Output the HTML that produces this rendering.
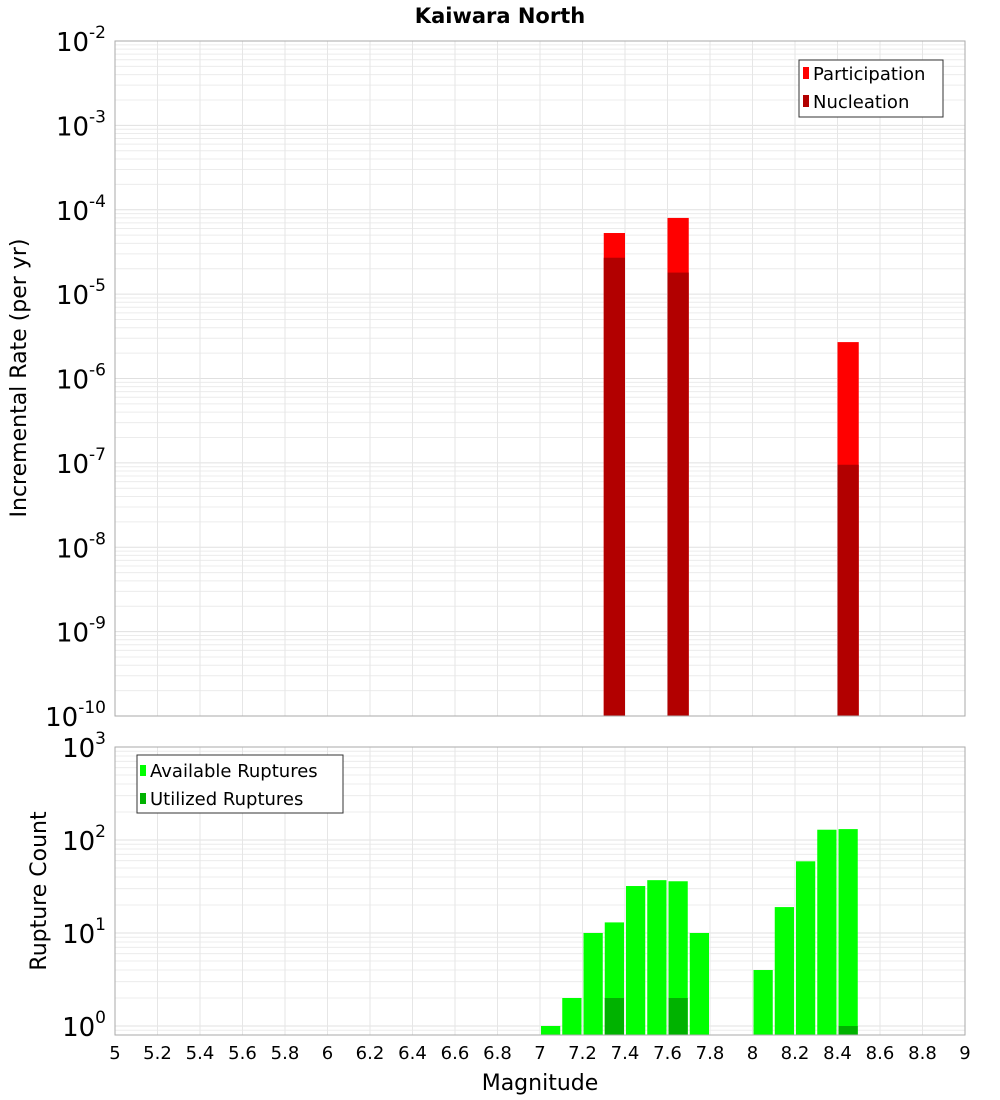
<!DOCTYPE html>
<html><head><meta charset="utf-8"><style>
body{margin:0;background:#fff;}
svg{display:block;font-family:"DejaVu Sans","Liberation Sans",sans-serif;}
</style></head><body>
<svg id="chart" width="1000" height="1100"></svg>
<script>
const magBins = [7.05,7.15,7.25,7.35,7.45,7.55,7.65,7.75,8.05,8.15,8.25,8.35,8.45];
const availableCounts = [1,2,10,13,32,37,36,10,4,19,59,129,131];
const utilizedMags = [7.35,7.65,8.45];
const utilizedCounts = [2,2,1];
const rateMags = [7.35,7.65,8.45];
const participationRates = [5.3e-5,8.0e-5,2.7e-6];
const nucleationRates = [2.7e-5,1.8e-5,9.5e-8];
const xTicks = [5,5.2,5.4,5.6,5.8,6,6.2,6.4,6.6,6.8,7,7.2,7.4,7.6,7.8,8,8.2,8.4,8.6,8.8,9];
const topExps = [-2,-3,-4,-5,-6,-7,-8,-9,-10];
const botExps = [3,2,1,0];

const NS="http://www.w3.org/2000/svg";
const svg=document.getElementById('chart');
function mk(tag,attrs,parent,text){const e=document.createElementNS(NS,tag);for(const k in attrs)e.setAttribute(k,attrs[k]);if(text!==undefined)e.textContent=text;(parent||svg).appendChild(e);return e;}
const L=115,R=965;
const xs=m=>L+(m-5)/4*(R-L);
const T1=41,B1=716;
const y1=v=>T1+(-2-Math.log10(v))*(B1-T1)/8;
const T2=747,B2=1035,DEC2=93;
const y2=v=>T2+(3-Math.log10(v))*DEC2;

function grid(top,bottom,yf,expLo,expHi){
  const g=mk('g',{});
  
  
  for(let e=expLo;e<=expHi;e++){for(let k=1;k<10;k++){const y=yf(k*Math.pow(10,e));if(y<top-0.5||y>bottom+0.5)continue;
    mk('line',{x1:L,x2:R,y1:y,y2:y,stroke:k===1?'#e0e0e0':'#ececec','stroke-width':1},g);}}
  xTicks.forEach(t=>{const x=xs(t);mk('line',{x1:x,x2:x,y1:top,y2:bottom,stroke:'#e6e6e6','stroke-width':1},g);});
}
grid(T1,B1,y1,-10,-3);
grid(T2,B2,y2,-1,2);

// top bars
rateMags.forEach((m,i)=>{
  const x=xs(m-0.05),w=xs(m+0.05)-x;
  const yp=y1(participationRates[i]);
  const r=mk('rect',{x:x,y:yp,width:w,height:B1-yp,fill:'#ff0000'});
  
  
  const yn=y1(nucleationRates[i]);
  const r2=mk('rect',{x:x,y:yn,width:w,height:B1-yn,fill:'#b20000'});
  
  
});
// bottom bars
magBins.forEach((m,i)=>{
  const x=xs(m-0.05)+1,w=xs(m+0.05)-xs(m-0.05)-2;
  const y=y2(availableCounts[i]);
  const r=mk('rect',{x:x,y:y,width:w,height:B2-y,fill:'#00ff00'});
  
  
});
utilizedMags.forEach((m,i)=>{
  const x=xs(m-0.05)+1,w=xs(m+0.05)-xs(m-0.05)-2;
  const y=y2(utilizedCounts[i]);
  const r=mk('rect',{x:x,y:y,width:w,height:B2-y,fill:'#00b200'});
  
  
});
// frames
mk('rect',{x:L,y:T1,width:R-L,height:B1-T1,fill:'none',stroke:'#aaaaaa','stroke-width':1});
mk('rect',{x:L,y:T2,width:R-L,height:B2-T2,fill:'none',stroke:'#aaaaaa','stroke-width':1});

// y tick labels
function ylab(y,e){
  const t=mk('text',{x:106,y:y+10,'font-size':26,'text-anchor':'end',fill:'#000'});
  
  
  mk('tspan',{},t,'10');
  mk('tspan',{dy:-13,'font-size':17},t,String(e));
}
topExps.forEach(e=>ylab(y1(Math.pow(10,e)),e));
botExps.forEach(e=>ylab(y2(Math.pow(10,e)),e));
// x tick labels
xTicks.forEach(t=>{
  const tx=mk('text',{x:xs(t),y:1059,'font-size':18,'text-anchor':'middle'},svg,String(Math.round(t*10)/10));
  
  
});
</script>
<svg width="1000" height="1100" style="position:absolute;left:0;top:0;font-family:'DejaVu Sans','Liberation Sans',sans-serif">
<text x="500" y="23" font-size="21" font-weight="bold" text-anchor="middle">Kaiwara North</text>
<text x="540" y="1090" font-size="22" text-anchor="middle">Magnitude</text>
<text transform="translate(26,378) rotate(-90)" font-size="22" text-anchor="middle">Incremental Rate (per yr)</text>
<text transform="translate(46,891) rotate(-90)" font-size="22" text-anchor="middle">Rupture Count</text>
<g>
<rect x="799" y="60" width="144" height="57" fill="#fff" stroke="#333"/>
<rect x="803" y="67" width="6" height="12" fill="#ff0000"/>
<text x="813" y="80" font-size="18">Participation</text>
<rect x="803" y="95" width="6" height="12" fill="#b20000"/>
<text x="813" y="108" font-size="18">Nucleation</text>
</g>
<g>
<rect x="137" y="755" width="206" height="58" fill="#fff" stroke="#333"/>
<rect x="140" y="765" width="6" height="11" fill="#00ff00"/>
<text x="150" y="777" font-size="18">Available Ruptures</text>
<rect x="140" y="793" width="6" height="11" fill="#00b200"/>
<text x="150" y="805" font-size="18">Utilized Ruptures</text>
</g>
</svg>
</body></html>
